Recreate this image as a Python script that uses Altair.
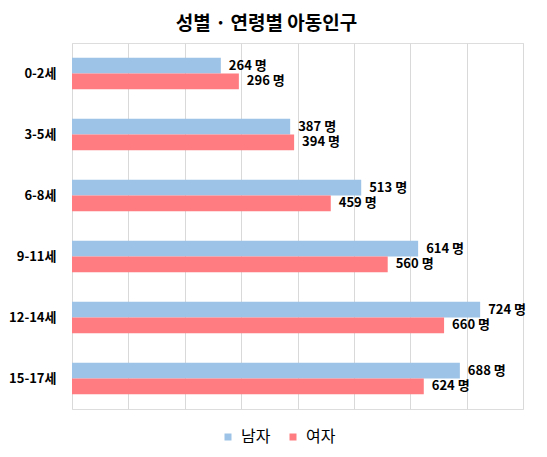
import pandas as pd
import altair as alt

# 연령대별 아동인구 (명)
ages = ['0-2세', '3-5세', '6-8세', '9-11세', '12-14세', '15-17세']
male = [264, 387, 513, 614, 724, 688]
female = [296, 394, 459, 560, 660, 624]
genders = ['남자', '여자']

BLUE = '#9DC3E6'
RED = '#FF7C80'
FONT = 'Noto Sans CJK KR'

rows = []
for age, m, f in zip(ages, male, female):
    rows.append({'age': age, 'gender': '남자', 'value': m})
    rows.append({'age': age, 'gender': '여자', 'value': f})
df = pd.DataFrame(rows)

y_enc = alt.Y(
    'age:N',
    sort=ages,
    title=None,
    scale=alt.Scale(paddingInner=0.48, paddingOuter=0.24),
    axis=alt.Axis(
        ticks=False, domain=False, labelPadding=16,
        labelFontSize=13, labelFontWeight='bold', labelColor='#000000',
        labelFont=FONT,
    ),
)
y_off = alt.YOffset('gender:N', sort=genders, scale=alt.Scale(domain=genders))
x_enc = alt.X(
    'value:Q',
    title=None,
    scale=alt.Scale(domain=[0, 800], nice=False),
    axis=alt.Axis(
        values=list(range(0, 801, 100)), labels=False, ticks=False,
        domain=False, grid=True, gridColor='#D9D9D9',
    ),
)

base = alt.Chart(df).encode(y=y_enc, yOffset=y_off, x=x_enc)

# legend coordinates are relative to the plot area
bars = base.mark_bar().encode(
    color=alt.Color(
        'gender:N',
        scale=alt.Scale(domain=genders, range=[BLUE, RED]),
        legend=alt.Legend(
            title=None, orient='none', direction='horizontal',
            legendX=148, legendY=386,
            symbolType='square', symbolSize=49, symbolStrokeWidth=0,
            symbolOpacity=1,
            labelFontSize=16, labelFont=FONT, labelColor='#000000',
            labelOffset=5, columnPadding=14,
        ),
    )
)

labels = base.transform_calculate(
    label="datum.value + ' 명'"
).mark_text(
    align='left', baseline='middle', dx=8, fontSize=13,
    fontWeight='bold', font=FONT, color='#000000',
).encode(text='label:N')

chart = alt.layer(bars, labels).properties(
    width=451,
    height=366,
    autosize=alt.AutoSizeParams(type='none'),
    padding={'left': 64, 'top': 35, 'right': 16, 'bottom': 40},
    title=alt.TitleParams(
        '성별 · 연령별 아동인구', fontSize=19, fontWeight='bold',
        font=FONT, color='#000000', dx=-31, offset=9,
    ),
).configure_view(stroke=None).configure(background='#FFFFFF')

chart.save('out.html', embed_options={'renderer': 'svg', 'actions': False})
